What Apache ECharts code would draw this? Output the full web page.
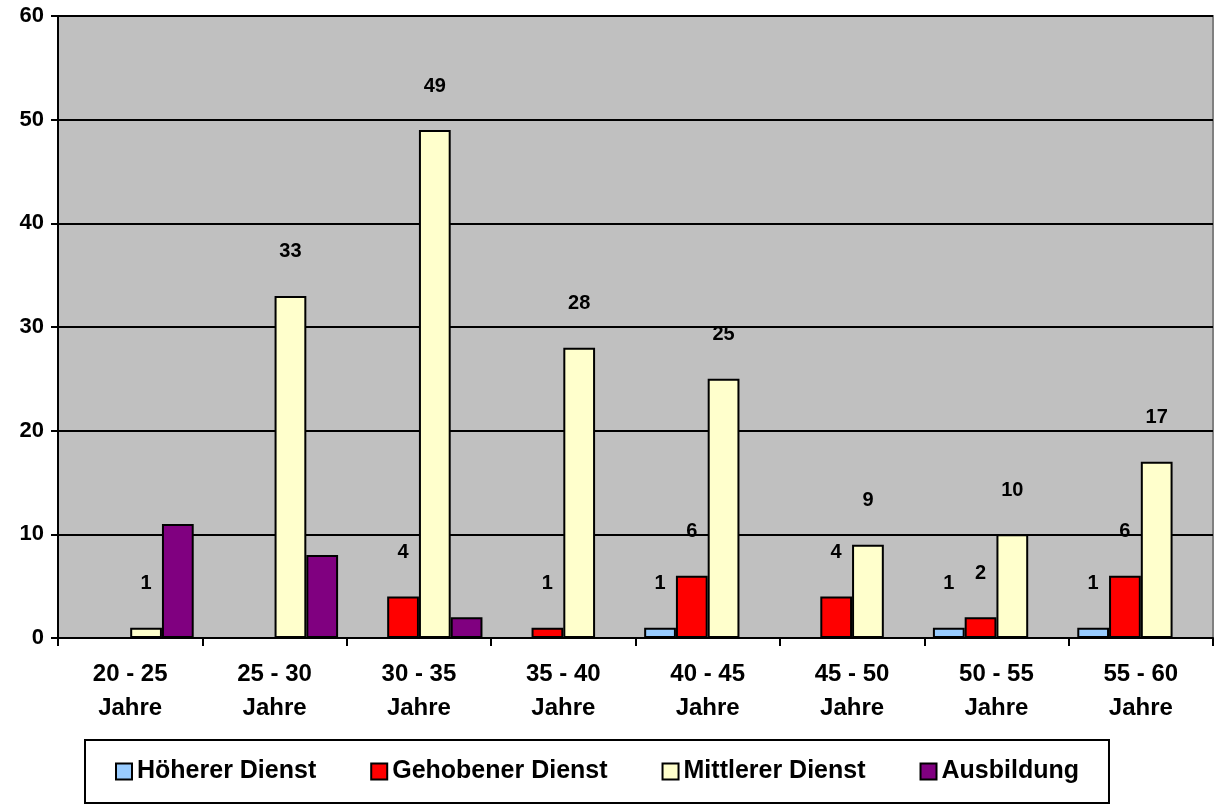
<!DOCTYPE html>
<html>
<head>
<meta charset="utf-8">
<script src="https://cdn.jsdelivr.net/npm/echarts@6/dist/echarts.min.js"></script>
<style>
    html, body { margin: 0; padding: 0; background: #fff; }
    #chart { width: 1215px; height: 806px; }
</style>
</head>
<body>
<div id="chart"></div>
<script>
const categories = ['20 - 25\nJahre', '25 - 30\nJahre', '30 - 35\nJahre', '35 - 40\nJahre',
    '40 - 45\nJahre', '45 - 50\nJahre', '50 - 55\nJahre', '55 - 60\nJahre'];
const seriesNames = ['Höherer Dienst', 'Gehobener Dienst', 'Mittlerer Dienst', 'Ausbildung'];
const hoehererDienst = [0, 0, 0, 0, 1, 0, 1, 1];
const gehobenerDienst = [0, 0, 4, 1, 6, 4, 2, 6];
const mittlererDienst = [1, 33, 49, 28, 25, 9, 10, 17];
const ausbildung = [11, 8, 2, 0, 0, 0, 0, 0];
const yTicks = { min: 0, max: 60, interval: 10 };

const colors = ['#99CCFF', '#FF0000', '#FFFFCC', '#800080'];
const font = "'Liberation Sans', Arial, sans-serif";

// empty cells in the sheet -> no bar, no label
function clean(arr) {
    return arr.map(v => v === 0 ? '-' : v);
}

function makeSeries(name, values, color, showLabel) {
    return {
        name: name,
        type: 'bar',
        data: clean(values),
        barGap: '0%',
        barCategoryGap: '12%',
        itemStyle: { color: color, borderColor: '#000', borderWidth: 2 },
        label: {
            show: showLabel,
            position: 'top',
            distance: 34,
            color: '#000',
            fontFamily: font,
            fontWeight: 'bold',
            fontSize: 20
        },
        emphasis: { disabled: true }
    };
}

const chart = echarts.init(document.getElementById('chart'));
chart.setOption({
    animation: false,
    textStyle: { fontFamily: font },
    grid: {
        left: 58, right: 2, top: 16, bottom: 168,
        show: true,
        backgroundColor: '#C0C0C0',
        borderColor: '#808080',
        borderWidth: 2
    },
    legend: {
        left: 85,
        top: 740,
        padding: [19, 30],
        itemGap: 54,
        itemWidth: 16,
        itemHeight: 16,
        itemStyle: { borderColor: '#000', borderWidth: 2 },
        icon: 'rect',
        borderColor: '#000',
        borderWidth: 2,
        textStyle: { fontFamily: font, fontWeight: 'bold', fontSize: 25, color: '#000' },
        data: seriesNames
    },
    xAxis: {
        type: 'category',
        data: categories,
        axisLine: { lineStyle: { color: '#000', width: 2 } },
        axisTick: { show: true, length: 8, lineStyle: { color: '#000', width: 2 } },
        axisLabel: {
            color: '#000',
            fontFamily: font,
            fontWeight: 'bold',
            fontSize: 24,
            lineHeight: 34,
            margin: 19
        },
        splitLine: { show: false }
    },
    yAxis: {
        type: 'value',
        min: yTicks.min,
        max: yTicks.max,
        interval: yTicks.interval,
        axisLine: { show: true, lineStyle: { color: '#000', width: 2 } },
        axisTick: { show: true, length: 7, lineStyle: { color: '#000', width: 2 } },
        axisLabel: {
            color: '#000',
            fontFamily: font,
            fontWeight: 'bold',
            fontSize: 22,
            margin: 14
        },
        splitLine: { lineStyle: { color: '#000', width: 2 } }
    },
    series: [
        makeSeries(seriesNames[0], hoehererDienst, colors[0], true),
        makeSeries(seriesNames[1], gehobenerDienst, colors[1], true),
        makeSeries(seriesNames[2], mittlererDienst, colors[2], true),
        makeSeries(seriesNames[3], ausbildung, colors[3], false)
    ]
});
</script>
</body>
</html>
